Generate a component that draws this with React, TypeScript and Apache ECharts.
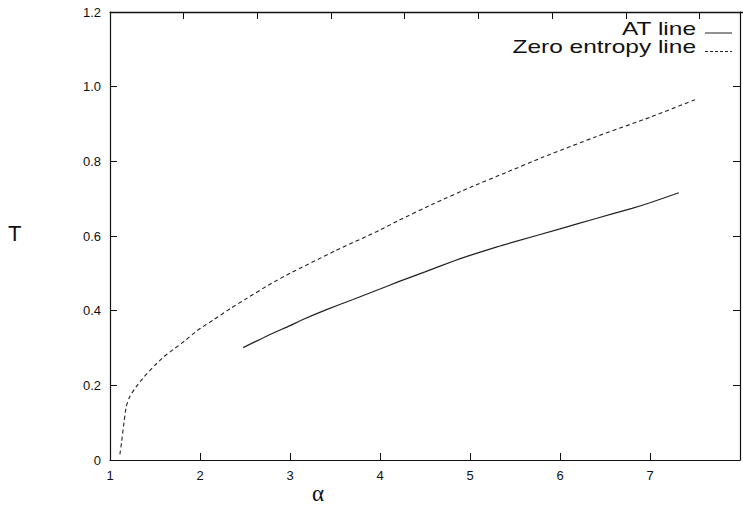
import React, { useEffect, useRef } from "react";
import * as echarts from "echarts";

const atLine: [number, number][] = [
  [2.48, 0.301], [2.75, 0.333], [3.0, 0.36], [3.15, 0.377], [3.42, 0.404], [3.7, 0.43],
  [4.0, 0.458], [4.2, 0.477], [4.5, 0.504], [4.82, 0.533], [5.0, 0.548], [5.3, 0.571],
  [5.5, 0.585], [6.0, 0.619], [6.4, 0.647], [6.8, 0.674], [7.0, 0.689], [7.32, 0.716],
];

const zeroEntropyLine: [number, number][] = [
  [1.11, 0.015], [1.13, 0.05], [1.15, 0.09], [1.18, 0.143], [1.22, 0.17], [1.29, 0.196],
  [1.38, 0.223], [1.5, 0.254], [1.6, 0.277], [1.72, 0.299], [1.83, 0.319], [1.97, 0.347],
  [2.16, 0.377], [2.34, 0.406], [2.52, 0.433], [2.8, 0.474], [3.0, 0.5], [3.5, 0.56],
  [4.0, 0.616], [4.2, 0.641], [4.6, 0.687], [5.0, 0.73], [5.4, 0.77], [5.8, 0.81],
  [6.4, 0.866], [7.0, 0.918], [7.5, 0.965],
];

const legendLabels = ["AT line", "Zero entropy line"];
const xTicks = [1, 2, 3, 4, 5, 6, 7];

export default function App() {
  const ref = useRef<HTMLDivElement>(null);
  useEffect(() => {
    if (!ref.current) return;
    const chart = echarts.init(ref.current, null, { renderer: "svg" });
    const axisLine = { show: true, onZero: false, lineStyle: { color: "#111", width: 1.2 } };
    const tick = { show: true, inside: true, length: 7, lineStyle: { color: "#111", width: 1 } };
    const labelFont = { color: "#111", fontSize: 13, fontFamily: "Liberation Sans, Arial, sans-serif" };
    const legendFont = "Liberation Sans, Arial, sans-serif";
    chart.setOption({
      animation: false,
      backgroundColor: "#fff",
      grid: { left: 110, right: -3, top: 12, bottom: 48, containLabel: false },
      xAxis: [
        {
          type: "value", position: "bottom", min: 1, max: 8, interval: 1,
          axisLine, axisTick: tick, splitLine: { show: false },
          axisLabel: {
            ...labelFont, margin: 9,
            formatter: (v: number) => (xTicks.includes(v) ? String(v) : ""),
          },
        },
        {
          type: "value", position: "top", min: 0, max: 8.55, interval: 1,
          axisLine, axisTick: tick, splitLine: { show: false }, axisLabel: { show: false },
        },
      ],
      yAxis: [
        {
          type: "value", position: "left", min: 0, max: 1.2, interval: 0.2,
          axisLine, axisTick: tick, splitLine: { show: false },
          axisLabel: {
            ...labelFont, margin: 9,
            formatter: (v: number) => (v === 0 ? "0" : v.toFixed(1)),
          },
        },
        {
          type: "value", position: "right", min: 0, max: 1.2, interval: 0.2,
          axisLine, axisTick: tick, splitLine: { show: false }, axisLabel: { show: false },
        },
      ],
      series: [
        {
          name: legendLabels[0], type: "line", data: atLine, symbol: "none",
          xAxisIndex: 0, yAxisIndex: 0, smooth: 0.2,
          lineStyle: { color: "#222", width: 1.2 },
        },
        {
          name: legendLabels[1], type: "line", data: zeroEntropyLine, symbol: "none",
          xAxisIndex: 0, yAxisIndex: 0, smooth: 0.15,
          lineStyle: { color: "#222", width: 1.1, type: [4, 3] },
        },
      ],
      graphic: [
        {
          type: "line", shape: { x1: 110, y1: 12.5, x2: 746, y2: 12.5 },
          style: { stroke: "#111", lineWidth: 1.3 }, z: 10,
        },
        {
          type: "text", left: 8, top: 222,
          style: { text: "T", fontSize: 22, fill: "#111", fontFamily: legendFont },
        },
        {
          type: "text", left: 312, top: 482,
          style: { text: "α", fontSize: 23, fill: "#111", fontFamily: "Liberation Serif, DejaVu Serif, serif" },
        },
        {
          type: "text", x: 696, y: 38, scaleX: 1.36, scaleY: 1.0,
          style: {
            text: legendLabels[0], fontSize: 18, fill: "#111", align: "right", verticalAlign: "bottom",
            fontFamily: legendFont,
          },
        },
        {
          type: "text", x: 696, y: 56, scaleX: 1.36, scaleY: 1.0,
          style: {
            text: legendLabels[1], fontSize: 18, fill: "#111", align: "right", verticalAlign: "bottom",
            fontFamily: legendFont,
          },
        },
        {
          type: "line", shape: { x1: 705, y1: 33, x2: 732, y2: 33 },
          style: { stroke: "#222", lineWidth: 1 },
        },
        {
          type: "line", shape: { x1: 705, y1: 51.5, x2: 732, y2: 51.5 },
          style: { stroke: "#222", lineWidth: 1, lineDash: [3, 2] },
        },
      ],
    });
    return () => chart.dispose();
  }, []);
  return <div ref={ref} style={{ width: 743, height: 508, position: "absolute", left: 0, top: 0 }} />;
}
